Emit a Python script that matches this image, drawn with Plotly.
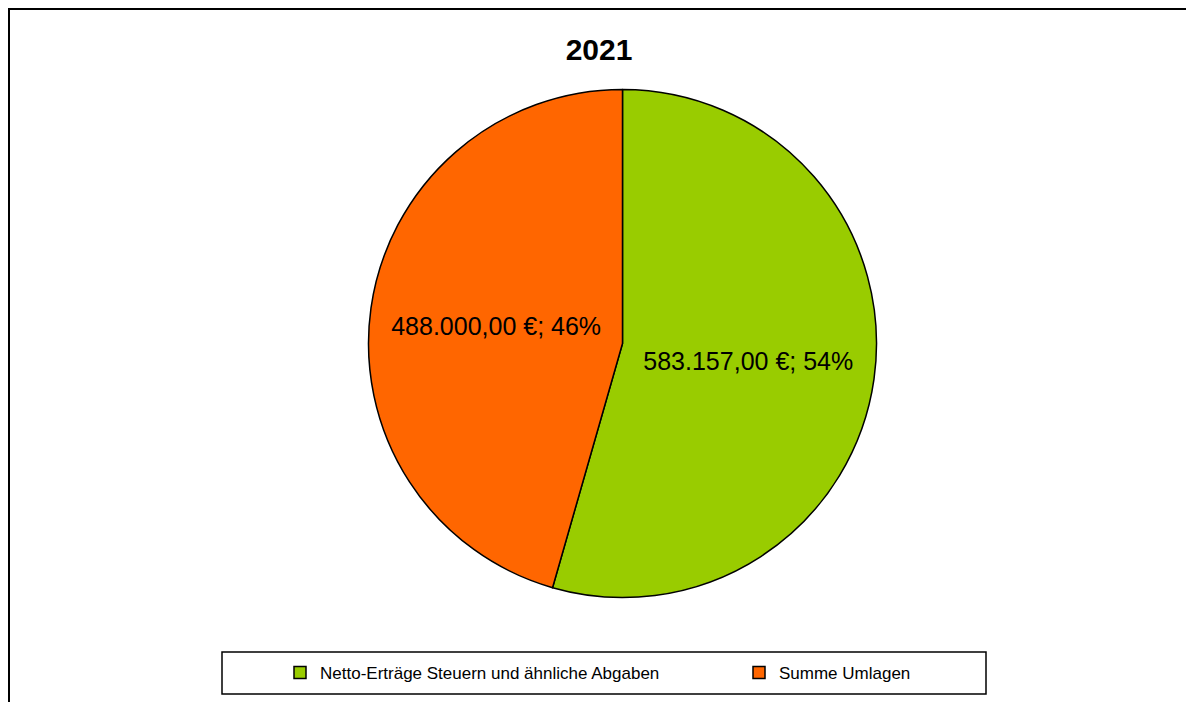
import plotly.graph_objects as go

W, H = 1194, 702
OFF = 8  # default page body margin offsets the figure

title_text = "2021"
labels = ["Netto-Erträge Steuern und ähnliche Abgaben", "Summe Umlagen"]
values = [583157.00, 488000.00]
colors = ["#99CC00", "#FF6600"]

total = sum(values)


def de_money(v):
    s = f"{v:,.2f}"
    return s.replace(",", "X").replace(".", ",").replace("X", ".")


texts = [f"{de_money(v)} €; {round(100 * v / total):.0f}%" for v in values]


def px(x):
    return (x - OFF) / W


def py(y):
    return 1 - (y - OFF) / H


cx, cy, r = 622.5, 343.5, 254
fig = go.Figure(
    go.Pie(
        labels=labels,
        values=values,
        text=texts,
        texttemplate="%{text}",
        textposition="inside",
        insidetextorientation="horizontal",
        sort=False,
        direction="clockwise",
        rotation=0,
        marker=dict(colors=colors, line=dict(color="black", width=1.5)),
        textfont=dict(family="Liberation Sans, Arial", size=25, color="black"),
        domain=dict(x=[px(cx - r), px(cx + r)], y=[py(cy + r), py(cy - r)]),
        hoverinfo="label+value+percent",
    )
)

fig.update_layout(
    width=W,
    height=H,
    autosize=False,
    margin=dict(l=0, r=0, t=0, b=0),
    paper_bgcolor="white",
    plot_bgcolor="white",
    font=dict(family="Liberation Sans, Arial", color="black"),
    title=dict(
        text=f"<b>{title_text}</b>",
        x=px(599),
        xanchor="center",
        y=py(49.5),
        yanchor="middle",
        font=dict(size=30, family="Liberation Sans, Arial", color="black"),
    ),
    showlegend=True,
    legend=dict(
        orientation="h",
        x=px(280),
        xanchor="left",
        y=py(673),
        yanchor="middle",
        font=dict(size=17, family="Liberation Sans, Arial", color="black"),
        bgcolor="rgba(0,0,0,0)",
        itemclick=False,
        entrywidth=414,
    ),
    shapes=[
        dict(type="rect", xref="paper", yref="paper",
             x0=1 / W, x1=1.05, y0=-0.05, y1=1 - 1 / H,
             line=dict(color="black", width=2), fillcolor="rgba(0,0,0,0)"),
        dict(type="rect", xref="paper", yref="paper",
             x0=px(222), x1=px(986), y0=py(694), y1=py(652),
             line=dict(color="black", width=1.5), fillcolor="rgba(0,0,0,0)"),
    ],
)

fig.write_html("out.html", config={"displayModeBar": False})
